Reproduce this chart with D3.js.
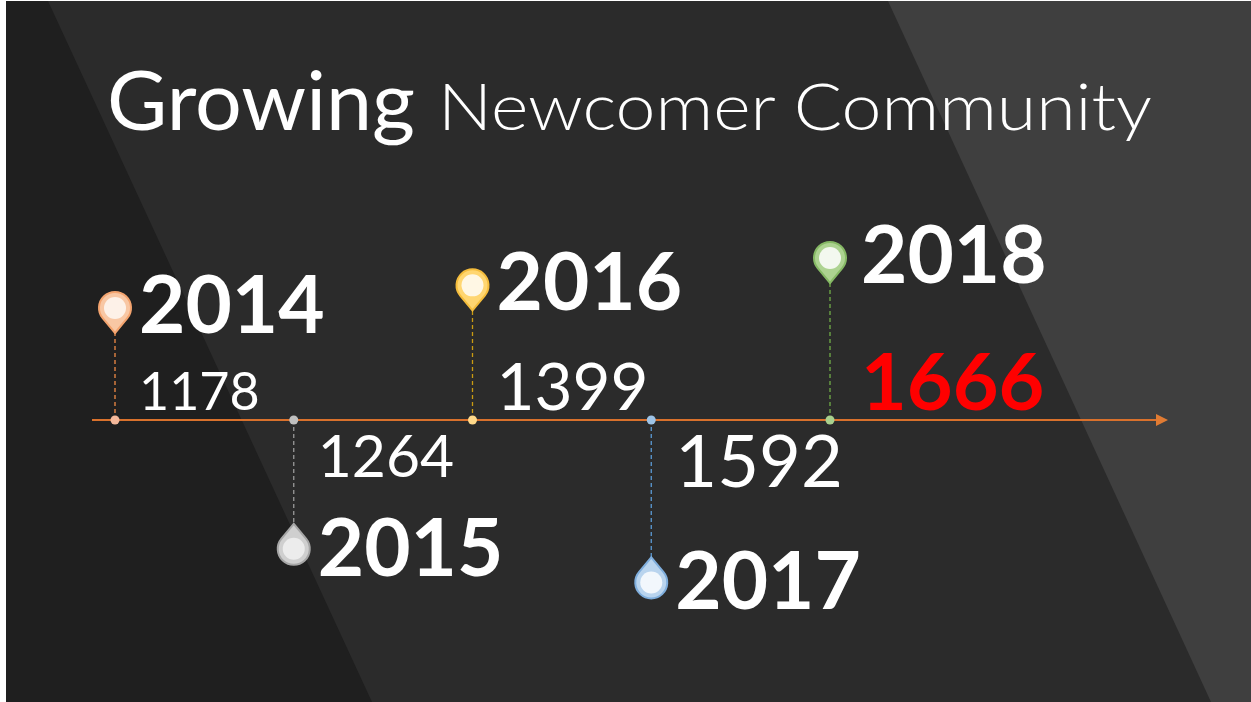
<!DOCTYPE html>
<html>
<head>
<meta charset="utf-8">
<script src="https://cdn.jsdelivr.net/npm/d3@7"></script>
<style>
  html, body { margin: 0; padding: 0; background: #ffffff; }
  svg { display: block; }
  text { font-family: Lato, "Open Sans", sans-serif; fill: #ffffff; }
</style>
</head>
<body>
<svg id="chart" width="1251" height="702"></svg>
<script>
// data
const years = ["2014", "2015", "2016", "2017", "2018"];
const members = [1178, 1264, 1399, 1592, 1666];
const titleBold = "Growing";
const titleRest = "Newcomer Community";

// styles per year: pin outline, pin fill, pin core, stem, axis dot
const pinStroke = ["#f4a46f", "#a6a6a6", "#f5bd3c", "#7faedd", "#86b965"];
const pinFill = ["#f8c7a4", "#cfcfcf", "#ffd671", "#b9d4ee", "#add391"];
const pinCore = ["#fdf1e8", "#ececec", "#fff7e4", "#f2f7fc", "#f3f8ef"];
const stemColor = ["#f08a45", "#9a9a9a", "#c99a12", "#5b9bd5", "#70ad47"];
const dotColor = ["#f4b89a", "#bfbfbf", "#ffd98a", "#9dc3e6", "#a9d18e"];

const svg = d3.select("#chart"),
    W = +svg.attr("width"),
    H = +svg.attr("height"),
    axisY = 420;

// background with diagonal bands
svg.append("rect")
    .attr("x", 6).attr("y", 1)
    .attr("width", W - 6).attr("height", H - 1)
    .attr("fill", "#2b2b2b");
svg.append("path")
    .attr("d", "M6,1 L48,1 L372," + H + " L6," + H + " Z")
    .attr("fill", "#1f1f1f");
svg.append("path")
    .attr("d", "M888,1 L" + W + ",1 L" + W + "," + H + " L1211," + H + " Z")
    .attr("fill", "#3f3f3f");

// title
svg.append("text")
    .attr("x", 107).attr("y", 130)
    .attr("font-size", 81)
    .attr("font-weight", 400)
    .attr("textLength", 308)
    .attr("lengthAdjust", "spacingAndGlyphs")
    .text(titleBold);
svg.append("text")
    .attr("x", 438).attr("y", 130)
    .attr("font-size", 66)
    .attr("font-weight", 300)
    .attr("textLength", 714)
    .attr("lengthAdjust", "spacingAndGlyphs")
    .text(titleRest);

const x = d3.scalePoint().domain(years).range([115, 830]);
const stem = d3.scaleLinear().domain(d3.extent(members)).range([87, 137]);
const valueSize = d3.scaleLinear().domain([0, years.length - 1]).range([52, 79]);

const items = years.map((y, i) => ({
    year: y,
    value: members[i],
    i: i,
    up: i % 2 === 0,
    last: i === years.length - 1
}));

// pins below the axis hang a little lower
const tipY = (d) => d.up ? axisY - stem(d.value) : axisY + stem(d.value) + 8;

// axis line with arrow
const g = svg.append("g");
g.append("line")
    .attr("x1", 92).attr("y1", axisY)
    .attr("x2", 1158).attr("y2", axisY)
    .attr("stroke", "#d9712c")
    .attr("stroke-width", 2);
g.append("path")
    .attr("d", "M1156," + (axisY - 6) + " L1168," + axisY + " L1156," + (axisY + 6) + " Z")
    .attr("fill", "#e07b33");

// dashed stems
g.append("g")
    .selectAll(".stem")
    .data(items)
    .enter()
    .append("line")
    .attr("class", "stem")
    .attr("x1", (d) => x(d.year))
    .attr("y1", axisY)
    .attr("x2", (d) => x(d.year))
    .attr("y2", (d) => tipY(d))
    .attr("stroke", (d) => stemColor[d.i])
    .attr("stroke-width", 1.3)
    .attr("stroke-dasharray", "4,3");

// dots on the axis
g.append("g")
    .selectAll(".dot")
    .data(items)
    .enter()
    .append("circle")
    .attr("class", "dot")
    .attr("cx", (d) => x(d.year))
    .attr("cy", axisY)
    .attr("r", 4.5)
    .attr("fill", (d) => dotColor[d.i]);

// pins
const pinPath = "M0,25 L12.3,10.2 A16,16 0 1 0 -12.3,10.2 Z";
const pins = g.append("g")
    .selectAll(".pin")
    .data(items)
    .enter()
    .append("g")
    .attr("class", "pin")
    .attr("transform", (d) => d.up
        ? "translate(" + x(d.year) + "," + (tipY(d) - 25) + ")"
        : "translate(" + x(d.year) + "," + (tipY(d) + 25) + ") rotate(180)");
pins.append("path")
    .attr("d", pinPath)
    .attr("fill", (d) => pinFill[d.i])
    .attr("stroke", (d) => pinStroke[d.i])
    .attr("stroke-width", 2);
pins.append("circle")
    .attr("r", 11)
    .attr("fill", (d) => pinCore[d.i]);

// year labels
g.append("g")
    .selectAll(".year")
    .data(items)
    .enter()
    .append("text")
    .attr("class", "year")
    .attr("x", (d) => x(d.year) + (d.last ? 31 : 24))
    .attr("y", (d) => d.up ? tipY(d) : tipY(d) + 52)
    .attr("font-size", 80)
    .attr("font-weight", "bold")
    .text((d) => d.year);

// value labels
g.append("g")
    .selectAll(".value")
    .data(items)
    .enter()
    .append("text")
    .attr("class", "value")
    .attr("x", (d) => x(d.year) + (d.last ? 31 : 24))
    .attr("y", (d) => d.up ? axisY - 10 : axisY + 15 + 0.7165 * valueSize(d.i))
    .attr("font-size", (d) => valueSize(d.i))
    .attr("font-weight", (d) => d.last ? "bold" : 400)
    .style("fill", (d) => d.last ? "#ff0000" : "#ffffff")
    .text((d) => d.value);
</script>
</body>
</html>
